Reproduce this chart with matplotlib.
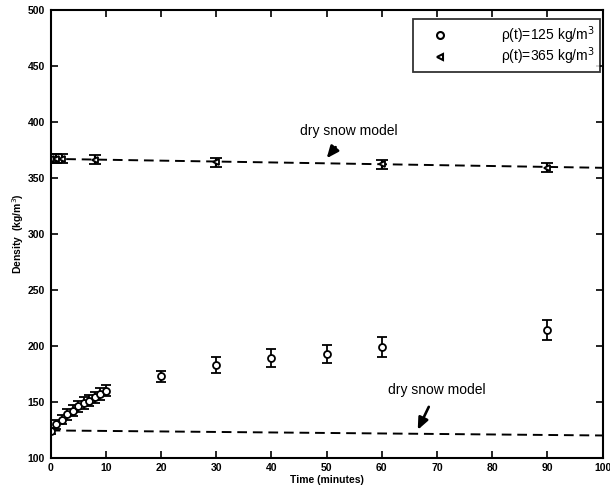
import matplotlib
matplotlib.use("Agg")
import matplotlib.pyplot as plt
from matplotlib.lines import Line2D

plt.rcParams['font.family'] = ['Liberation Sans', 'DejaVu Sans']

# Series rho(t)=125 kg/m^3 (open circles)
t_125 = [0, 1, 2, 3, 4, 5, 6, 7, 8, 9, 10, 20, 30, 40, 50, 60, 90]
rho_125 = [124, 130, 134, 139, 142, 146, 149, 151, 154, 157, 160, 173, 183, 189, 193, 199, 214]
err_125 = [3, 4, 4, 5, 5, 5, 5, 5, 5, 5, 5, 5, 7, 8, 8, 9, 9]

# Series rho(t)=365 kg/m^3 (triangles)
t_365 = [0, 1, 2, 8, 30, 60, 90]
rho_365 = [367, 367, 367, 366, 364, 362, 359]
err_365 = [4, 4, 4, 4, 4, 4, 4]

# Dry snow model lines
model_t = [0, 100]
model_125 = [124.5, 120]
model_365 = [367, 359]

xticks = [0, 10, 20, 30, 40, 50, 60, 70, 80, 90, 100]
yticks = [100, 150, 200, 250, 300, 350, 400, 450, 500]
labels = ['ρ(t)=125 kg/m$^3$', 'ρ(t)=365 kg/m$^3$']

fig = plt.figure(figsize=(6.1, 4.95), dpi=100)
ax = fig.add_axes([0.083, 0.075, 0.905, 0.905])

dash = (0, (5, 3))
ax.plot(model_t, model_125, linestyle=dash, color='black', lw=1.4)
ax.plot(model_t, model_365, linestyle=dash, color='black', lw=1.4)

ax.errorbar(t_125, rho_125, yerr=err_125, fmt='o', mfc='white', mec='black',
            ms=5, mew=1.3, ecolor='black', elinewidth=1.3, capsize=3.5, capthick=1.3)
ax.errorbar(t_365, rho_365, yerr=err_365, fmt='<', mfc='white', mec='black',
            ms=5, mew=1.3, ecolor='black', elinewidth=1.6, capsize=4, capthick=1.6)

ax.set_xlim(0, 100)
ax.set_ylim(100, 500)
ax.set_xticks(xticks)
ax.set_yticks(yticks)
ax.tick_params(direction='in', top=True, right=True, length=5, width=1.2,
               labelsize=7.5, pad=4)
for lab in ax.get_xticklabels() + ax.get_yticklabels():
    lab.set_fontweight('bold')
for s in ax.spines.values():
    s.set_linewidth(1.5)

ax.set_xlabel('Time (minutes)', fontsize=7.5, fontweight='bold', labelpad=1)
ax.set_ylabel('Density  (kg/m$^3$)', fontsize=7.5, fontweight='bold', labelpad=1)

ap = dict(arrowstyle='-|>,head_width=0.3,head_length=0.7',
          color='black', lw=1.9, shrinkA=6, shrinkB=0)
ax.annotate('dry snow model', xy=(50, 367.5), xytext=(54, 392),
            ha='center', va='center', fontsize=10, arrowprops=ap)
ax.annotate('dry snow model', xy=(66.5, 125), xytext=(70, 161),
            ha='center', va='center', fontsize=10, arrowprops=ap)

handles = [
    Line2D([], [], linestyle='none', marker='o', mfc='white', mec='black', ms=5, mew=1.5),
    Line2D([], [], linestyle='none', marker='<', mfc='white', mec='black', ms=5, mew=1.5),
]
leg = ax.legend(handles, labels, loc='upper right', bbox_to_anchor=(1.0, 0.985),
                fontsize=10, frameon=True, fancybox=False, edgecolor='black',
                handletextpad=2.8, borderpad=0.35, labelspacing=0.0,
                handlelength=3.2, borderaxespad=0.2)
leg.get_frame().set_linewidth(1.3)

fig.savefig('out.png', dpi=100)
